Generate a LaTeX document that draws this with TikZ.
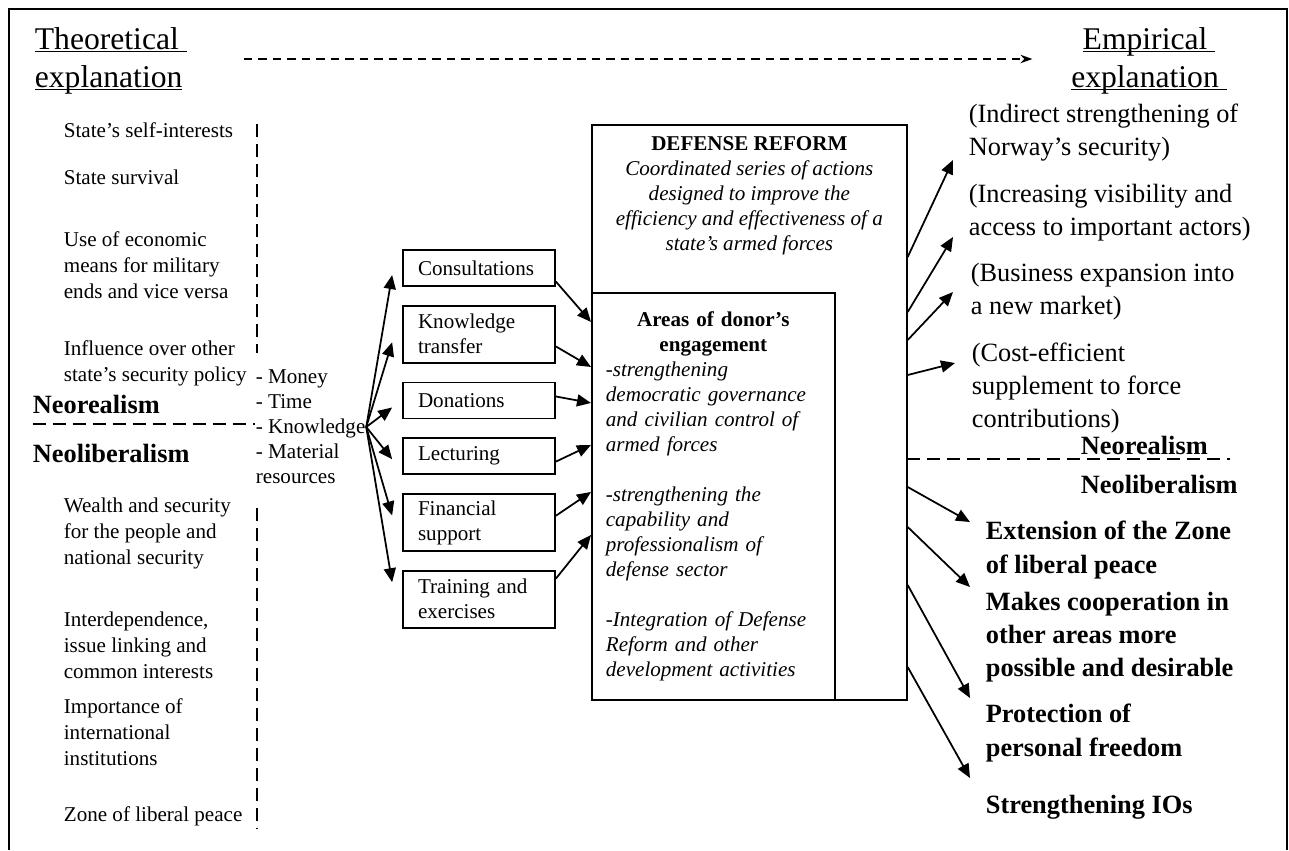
\documentclass[tikz,border=0pt]{standalone}
\usepackage{fontspec}
\setmainfont{Liberation Serif}
\usepackage{tikz}
\usetikzlibrary{positioning, arrows.meta, calc}

\newcommand{\titleul}[1]{\underline{\raisebox{0pt}[\height][0pt]{#1}}}

\begin{document}
\begin{tikzpicture}[x=0.02cm, y=-0.02cm, node distance=0.36cm, line width=1pt]

	% Styles
	\tikzset{
		heading/.style={inner sep=0pt, font=\fontsize{18}{21.6}\selectfont},
		theory/.style={anchor=west, inner sep=0pt, align=left, font=\fontsize{12}{14.8}\selectfont},
		school/.style={anchor=west, inner sep=0pt, font=\fontsize{15}{18}\selectfont\bfseries},
		means/.style={
			rectangle, draw, minimum width=3.04cm, minimum height=0.72cm,
			text width=2.44cm, inner xsep=0.3cm, inner ysep=0.05cm,
			align=left, font=\fontsize{12}{14.2}\selectfont
		},
		twoline/.style={means, minimum height=1.14cm},
		outcome/.style={anchor=west, inner sep=0pt, align=left, font=\fontsize{15}{18.8}\selectfont},
		result/.style={outcome, font=\fontsize{15}{18.8}\selectfont\bfseries},
		frame/.style={rectangle, draw, inner sep=0pt},
		arrow/.style={-{Triangle[length=0.28cm, width=0.24cm]}},
		divider/.style={dash pattern=on 0.26cm off 0.14cm}
	}

	\useasboundingbox (0,0) rectangle (1289,850);
	\draw (9,850) -- (9,9) -- (1287,9) -- (1287,850);

	% Headings
	\node (theo) [heading, anchor=west, align=left] at (34,59) {\titleul{Theoretical\ }\\\titleul{explanation}};
	\node (emp) [heading, align=center] at (1149,59) {\titleul{Empirical\ }\\\titleul{explanation\ }};
	\draw[-{Stealth[length=0.24cm, width=0.17cm]}, line width=0.8pt, dash pattern=on 0.17cm off 0.12cm,
		shorten <=1.12cm, shorten >=0.76cm] (theo.east) -- (emp.west);

	% Theory (left)
	\node (self) [theory] at (63,130) {State's self-interests};
	\node (surv) [theory] at (63,177) {State survival};
	\node (econ) [theory] at (63,265) {Use of economic\\means for military\\ends and vice versa};
	\node (infl) [theory] at (63,363) {Influence over other\\state's security policy};
	\node (real) [school] at (32,404) {Neorealism};
	\node (lib) [school] at (32,453) {Neoliberalism};
	\node (wealth) [theory] at (63,533) {Wealth and security\\for the people and\\national security};
	\node (inter) [theory] at (63,645) {Interdependence,\\issue linking and\\common interests};
	\node (inst) [theory] at (63,732) {Importance of\\international\\institutions};
	\node (zone) [theory] at (63,816) {Zone of liberal peace};

	\draw[divider] (257,124) -- (257,353);
	\draw[divider] (257,508) -- (257,828);
	\draw[divider] (33,424) -- (255,424);

	% Resources and means
	\node (res) [theory, font=\fontsize{12}{14.2}\selectfont] at (255,427) {- Money\\- Time\\- Knowledge\\- Material\\resources};

	\node (cons) [means] at (479,268) {Consultations};
	\node (know) [twoline, below=of cons] {Knowledge\\transfer};
	\node (don) [means, below=of know] {Donations};
	\node (lect) [means, below=of don] {Lecturing};
	\node (fin) [twoline, below=of lect] {Financial\\support};
	\node (train) [twoline, below=of fin] {Training and\\exercises};

	% Defense reform
	\node (reform) [frame, minimum width=6.3cm, minimum height=11.5cm, anchor=north west] at (591,124) {};
	\node (reformtxt) [below=0.24cm of reform.north, inner sep=0pt, align=center, font=\fontsize{12}{14.2}\selectfont\itshape]
		{{\upshape\bfseries DEFENSE REFORM}\\Coordinated series of actions\\designed to improve the\\efficiency and effectiveness of a\\state's armed forces};
	\node (areas) [frame, minimum width=4.86cm, minimum height=8.14cm, text width=4.3cm, inner xsep=0.28cm,
		align=left, anchor=south west, font=\fontsize{12}{14.2}\selectfont] at (reform.south west)
		{{\centering\bfseries Areas of donor's\\engagement\par}\raggedright\itshape
		-strengthening\\democratic governance\\and civilian control of\\armed forces\\[14.2pt]
		-strengthening the\\capability and\\professionalism of\\defense sector\\[14.2pt]
		-Integration of Defense\\Reform and other\\development activities};

	% Arrows from resources
	\draw[arrow] (res.east) -- ($(cons.west)+(-10,7)$);
	\draw[arrow] (res.east) -- ($(know.west)+(-10,8)$);
	\draw[arrow] (res.east) -- ($(don.west)+(-10,7)$);
	\draw[arrow] (res.east) -- ($(lect.west)+(-10,3)$);
	\draw[arrow] (res.east) -- ($(fin.west)+(-10,-7)$);
	\draw[arrow] (res.east) -- ($(train.west)+(-10,-17)$);

	% Arrows into areas of engagement
	\draw[arrow] (cons.-10) -- ($(areas.north west)+(0,30)$);
	\draw[arrow] (know.-9) -- ($(areas.north west)+(0,75)$);
	\draw[arrow] (don.3) -- ($(areas.north west)+(0,111)$);
	\draw[arrow] (lect.-4) -- ($(areas.north west)+(0,153)$);
	\draw[arrow] (fin.5) -- ($(areas.north west)+(0,200)$);
	\draw[arrow] (train.15) -- ($(areas.north west)+(0,243)$);

	% Empirical outcomes (right)
	\node (secur) [outcome] at (968,133) {(Indirect strengthening of\\Norway's security)};
	\node (visib) [outcome] at (968,213) {(Increasing visibility and\\access to important actors)};
	\node (busin) [outcome] at (970,292) {(Business expansion into\\a new market)};
	\node (cost) [outcome] at (971,388) {(Cost-efficient\\supplement to force\\contributions)};
	\node (realr) [school] at (1080,445) {Neorealism};
	\node (libr) [school] at (1080,484) {Neoliberalism};
	\draw[divider] (907,459) -- (1230,459);
	\node (peace) [result] at (985,550) {Extension of the Zone\\of liberal peace};
	\node (coop) [result] at (985,637) {Makes cooperation in\\other areas more\\possible and desirable};
	\node (free) [result] at (985,733) {Protection of\\personal freedom};
	\node (ios) [result] at (985,807) {Strengthening IOs};

	\draw[arrow] ($(reform.north east)+(0,133)$) -- ($(secur.west)+(-15,27)$);
	\draw[arrow] ($(reform.north east)+(0,188)$) -- ($(visib.west)+(-15,24)$);
	\draw[arrow] ($(reform.north east)+(0,216)$) -- ($(busin.west)+(-17,0)$);
	\draw[arrow] ($(reform.north east)+(0,251)$) -- ($(cost.west)+(-16,-25)$);
	\draw[arrow] ($(reform.north east)+(0,363)$) -- ($(peace.west)+(-15,-28)$);
	\draw[arrow] ($(reform.north east)+(0,403)$) -- ($(coop.west)+(-15,-50)$);
	\draw[arrow] ($(reform.north east)+(0,461)$) -- ($(free.west)+(-15,-35)$);
	\draw[arrow] ($(reform.north east)+(0,543)$) -- ($(ios.west)+(-15,-29)$);

\end{tikzpicture}
\end{document}
